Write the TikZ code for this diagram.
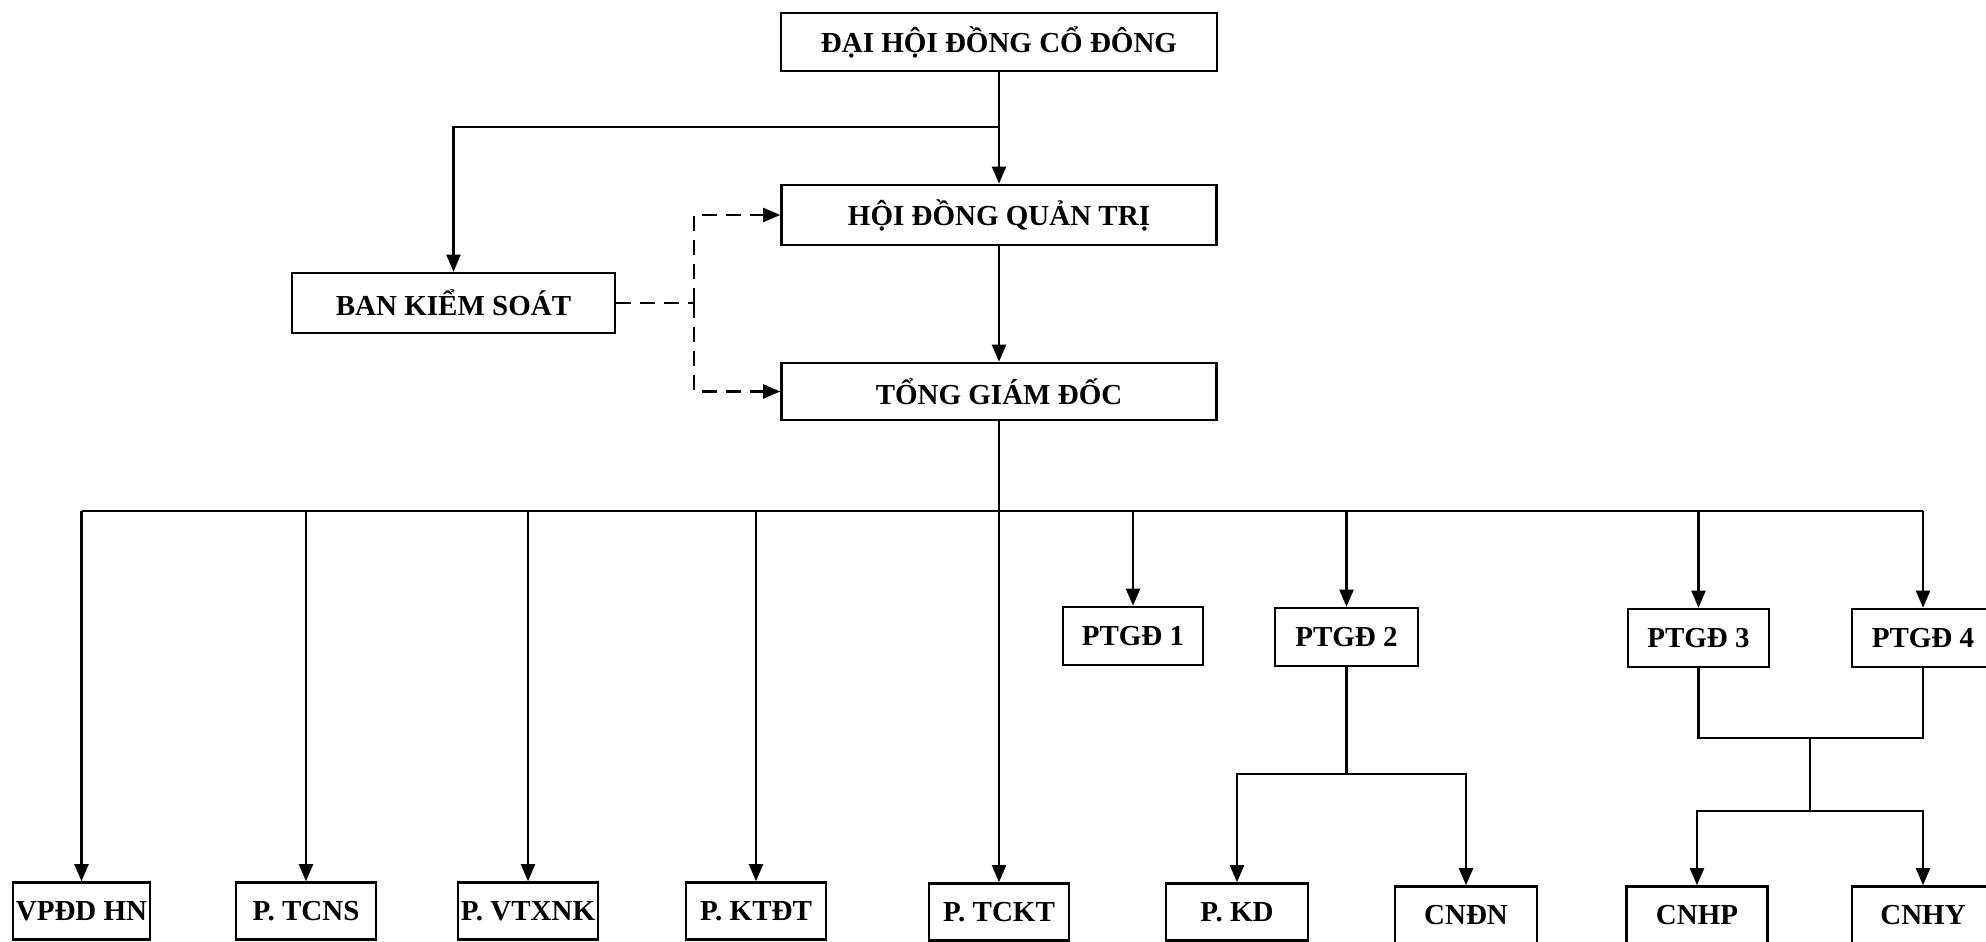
\documentclass[tikz,border=0pt]{standalone}
\usepackage{fontspec}
\setmainfont{Liberation Serif}
\usetikzlibrary{arrows.meta}
\begin{document}
\begin{tikzpicture}[x=1pt,y=-1pt,
  box/.style={draw=black, line width=2.6pt, fill=white, inner sep=0pt,
    font=\fontsize{29}{32}\selectfont\bfseries, text=black},
  conn/.style={line width=2.2pt, draw=black},
  arr/.style={conn, -{Triangle[width=14pt,length=17pt]}},
  dsh/.style={conn, dash pattern=on 15pt off 9pt},
  dsharr/.style={dsh, -{Triangle[width=14pt,length=17pt]}}
]
\useasboundingbox[fill=white] (0,0) rectangle (1986,942);

% top level
\node[box, minimum width=436pt, minimum height=58pt] (dhcd) at (999,42) {ĐẠI HỘI ĐỒNG CỔ ĐÔNG};
\node[box, minimum width=435pt, minimum height=60pt] (hdqt) at (999,215) {HỘI ĐỒNG QUẢN TRỊ};
\node[box, minimum width=323pt, minimum height=60pt] (bks) at (453.5,303) {BAN KIỂM SOÁT};
\node[box, minimum width=435pt, minimum height=57pt] (tgd) at (999,391.5) {TỔNG GIÁM ĐỐC};

% deputies
\node[box, minimum width=140pt, minimum height=58pt] (ptgd1) at (1133,636) {PTGĐ 1};
\node[box, minimum width=143pt, minimum height=58pt] (ptgd2) at (1346.5,637) {PTGĐ 2};
\node[box, minimum width=141pt, minimum height=58pt] (ptgd3) at (1698.5,638) {PTGĐ 3};
\node[box, minimum width=142pt, minimum height=58pt] (ptgd4) at (1923,638) {PTGĐ 4};

% bottom row
\node[box, minimum width=137pt, minimum height=57pt] (vpdd) at (81.5,911) {VPĐD HN};
\node[box, minimum width=140pt, minimum height=57pt] (tcns) at (306,911) {P. TCNS};
\node[box, minimum width=140pt, minimum height=57pt] (vtxnk) at (528,911) {P. VTXNK};
\node[box, minimum width=140pt, minimum height=57pt] (ktdt) at (756,911) {P. KTĐT};
\node[box, minimum width=140pt, minimum height=57pt] (tckt) at (999,912) {P. TCKT};
\node[box, minimum width=142pt, minimum height=57pt] (pkd) at (1237,912) {P. KD};
\node[box, minimum width=142pt, minimum height=57pt] (cndn) at (1466,915) {CNĐN};
\node[box, minimum width=141pt, minimum height=57pt] (cnhp) at (1697,915) {CNHP};
\node[box, minimum width=142pt, minimum height=57pt] (cnhy) at (1923,915) {CNHY};

% helper coordinates
\coordinate (b1) at (999,127);
\coordinate (dj) at (694,303);
\coordinate (bus) at (0,511);
\coordinate (j2) at (1346.5,774);
\coordinate (j34) at (0,738);
\coordinate (m34) at (1810,738);
\coordinate (k34) at (1810,811);

% top connectors
\draw[arr] (dhcd) -- (hdqt);
\draw[arr] (b1) -| (bks.north);
\draw[arr] (hdqt) -- (tgd);
\draw[dsh] (bks.east) -- (dj);
\draw[dsharr] (dj) |- (hdqt.west);
\draw[dsharr] (dj) |- (tgd.west);

% main bus
\draw[conn] (vpdd.north |- bus) -- (ptgd4.north |- bus);
\draw[arr] (tgd.south) -- (tckt.north);
\draw[arr] (vpdd.north |- bus) -- (vpdd.north);
\draw[arr] (tcns.north |- bus) -- (tcns.north);
\draw[arr] (vtxnk.north |- bus) -- (vtxnk.north);
\draw[arr] (ktdt.north |- bus) -- (ktdt.north);
\draw[arr] (ptgd1.north |- bus) -- (ptgd1.north);
\draw[arr] (ptgd2.north |- bus) -- (ptgd2.north);
\draw[arr] (ptgd3.north |- bus) -- (ptgd3.north);
\draw[arr] (ptgd4.north |- bus) -- (ptgd4.north);

% PTGD 2 branch
\draw[conn] (ptgd2.south) -- (j2);
\draw[arr] (j2) -| (pkd.north);
\draw[arr] (j2) -| (cndn.north);

% PTGD 3 / 4 branch
\draw[conn] (ptgd3.south) -- (ptgd3.south |- j34) -- (ptgd4.south |- j34) -- (ptgd4.south);
\draw[conn] (m34) -- (k34);
\draw[arr] (k34) -| (cnhp.north);
\draw[arr] (k34) -| (cnhy.north);
\end{tikzpicture}
\end{document}
